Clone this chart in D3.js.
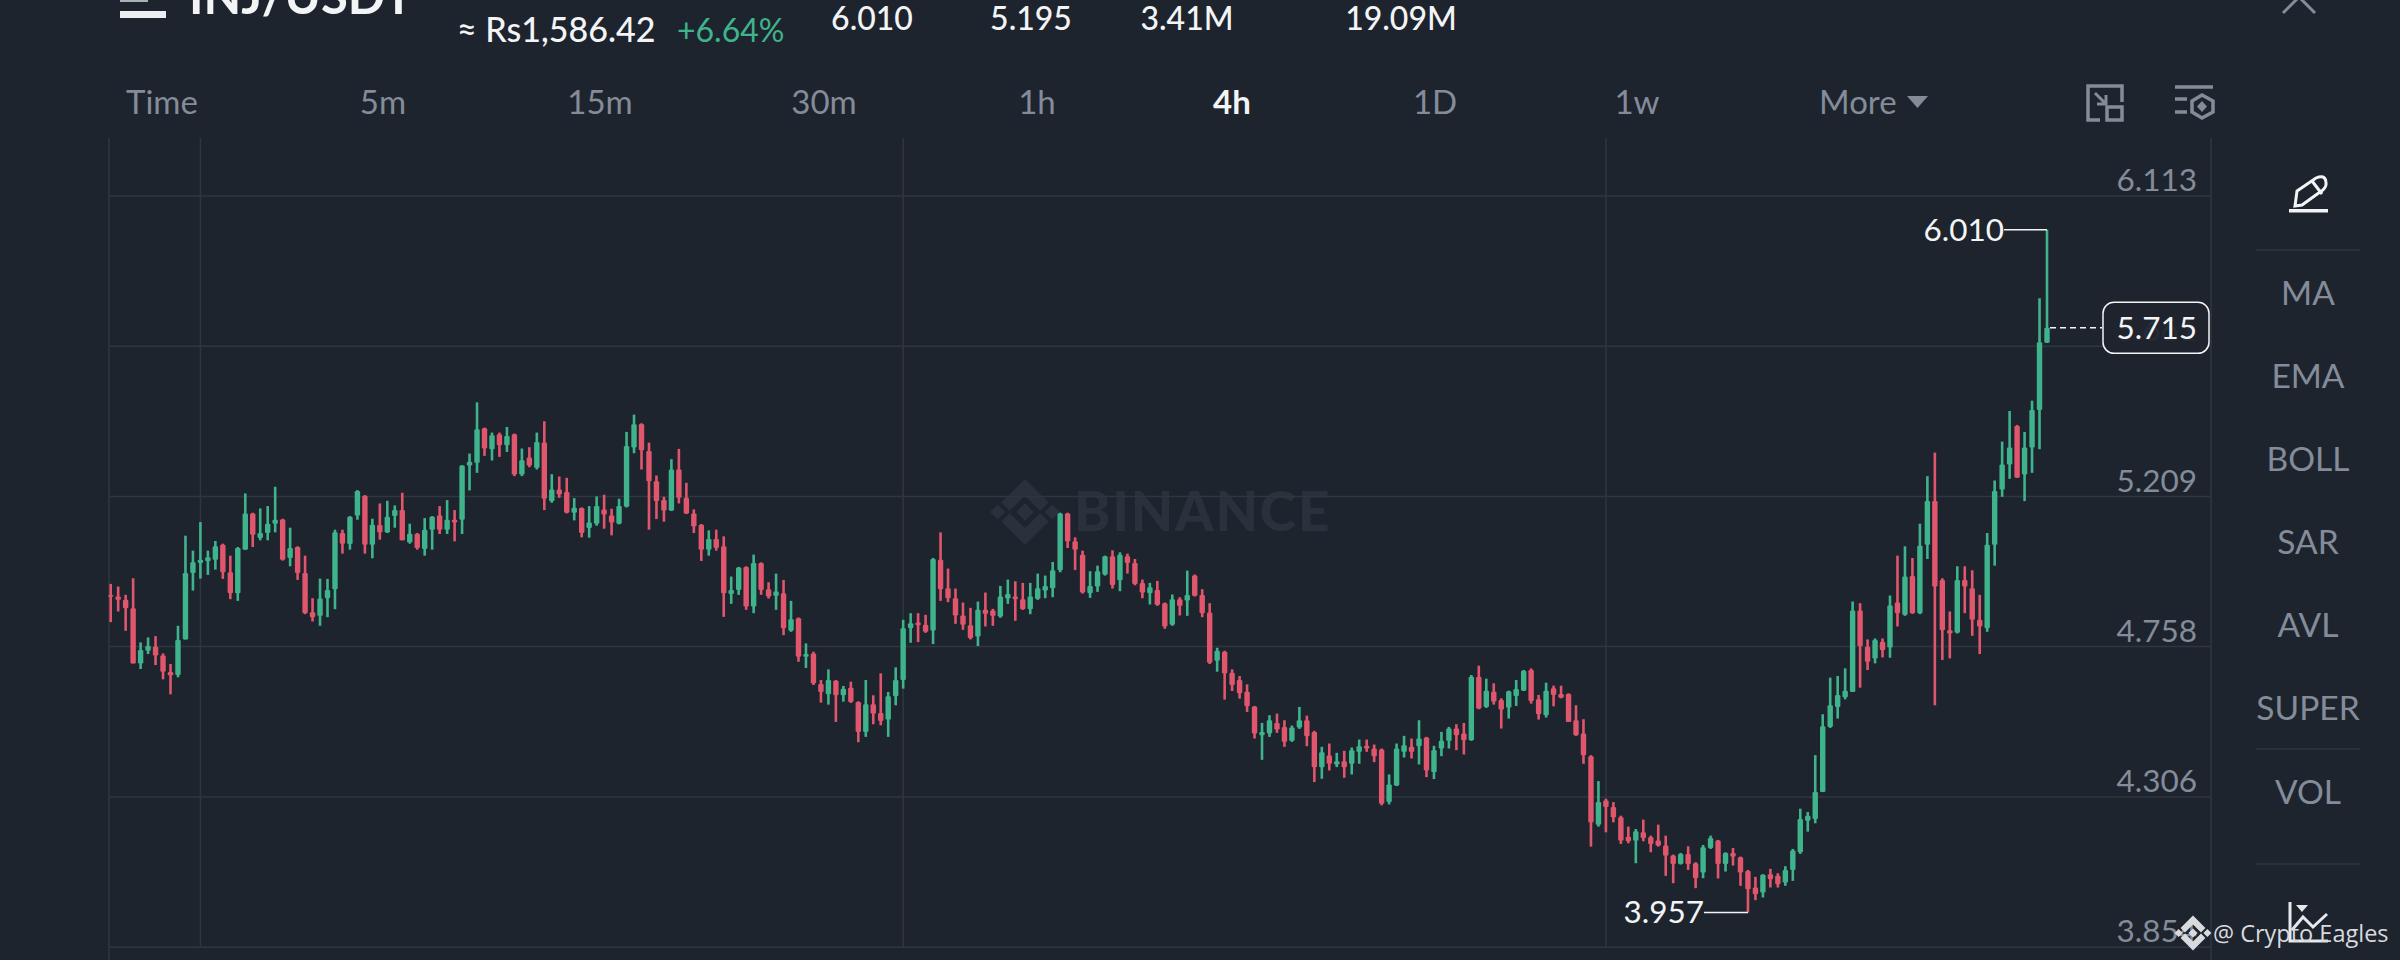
<!DOCTYPE html>
<html>
<head>
<meta charset="utf-8">
<title>INJ/USDT 4h</title>
<script src="https://d3js.org/d3.v7.min.js"></script>
<style>
  html, body { margin: 0; padding: 0; background: #1e242e; overflow: hidden; }
  text { font-family: Lato, "Open Sans", sans-serif; }
</style>
</head>
<body>
<script>
// 4h candles, oldest first
var opens = [
  4.912,4.907,4.897,4.872,4.706,4.744,4.756,4.730,4.680,4.671,
  4.778,4.978,5.008,5.013,5.018,5.063,4.980,4.917,5.048,5.157,
  5.083,5.098,5.126,5.139,5.023,5.056,4.978,4.860,4.849,4.902,
  4.929,5.098,5.065,5.151,5.210,5.063,5.122,5.100,5.149,5.167,
  5.070,5.096,5.050,5.108,5.151,5.108,5.138,5.138,5.301,5.309,
  5.413,5.350,5.395,5.362,5.395,5.274,5.325,5.294,5.370,5.194,
  5.229,5.221,5.159,5.173,5.113,5.126,5.169,5.151,5.126,5.177,
  5.355,5.426,5.345,5.254,5.197,5.166,5.289,5.204,5.157,5.123,
  5.048,5.080,5.058,4.915,4.927,4.996,4.877,5.008,4.929,4.909,
  4.917,4.804,4.842,4.726,4.736,4.644,4.613,4.654,4.610,4.633,
  4.590,4.500,4.583,4.557,4.537,4.607,4.656,4.812,4.829,4.822,
  4.805,5.018,4.932,4.902,4.850,4.821,4.787,4.867,4.865,4.847,
  4.901,4.907,4.899,4.869,4.900,4.925,4.932,4.986,5.157,5.073,
  5.033,4.917,4.937,4.973,5.028,4.956,5.028,5.008,4.948,4.917,
  4.927,4.887,4.822,4.899,4.895,4.970,4.912,4.859,4.714,4.741,
  4.678,4.656,4.621,4.576,4.490,4.495,4.527,4.515,4.473,4.513,
  4.535,4.500,4.394,4.429,4.402,4.412,4.404,4.440,4.458,4.450,
  4.447,4.289,4.339,4.440,4.455,4.457,4.483,4.379,4.450,4.473,
  4.510,4.495,4.475,4.666,4.575,4.621,4.596,4.573,4.608,4.624,
  4.686,4.598,4.550,4.631,4.614,4.614,4.535,4.495,4.427,4.221,
  4.294,4.274,4.243,4.185,4.173,4.198,4.183,4.173,4.158,4.128,
  4.103,4.133,4.105,4.077,4.151,4.173,4.103,4.136,4.123,4.082,
  4.032,4.017,4.072,4.067,4.047,4.085,4.138,4.233,4.238,4.319,
  4.515,4.575,4.604,4.620,4.865,4.756,4.721,4.771,4.754,4.889,
  4.852,4.969,4.857,5.063,5.194,4.957,4.806,4.798,4.957,4.932,
  4.837,4.812,5.063,5.229,5.304,5.420,5.274,5.355,5.468,5.670
];
var highs = [
  4.945,4.937,4.912,4.962,4.769,4.784,4.788,4.736,4.704,4.819,
  5.090,5.045,5.131,5.045,5.074,5.066,5.030,5.056,5.217,5.159,
  5.172,5.179,5.237,5.141,5.114,5.058,5.030,4.902,4.961,4.960,
  5.108,5.108,5.149,5.227,5.212,5.141,5.187,5.195,5.181,5.219,
  5.126,5.098,5.143,5.149,5.179,5.197,5.167,5.302,5.337,5.491,
  5.415,5.400,5.400,5.417,5.397,5.352,5.356,5.400,5.434,5.275,
  5.268,5.264,5.203,5.175,5.179,5.208,5.213,5.171,5.201,5.402,
  5.454,5.428,5.370,5.271,5.207,5.320,5.351,5.249,5.169,5.125,
  5.106,5.108,5.088,4.967,4.996,4.998,5.033,5.010,4.950,4.976,
  4.957,4.894,4.844,4.766,4.741,4.656,4.688,4.656,4.638,4.651,
  4.592,4.656,4.610,4.676,4.620,4.694,4.837,4.857,4.857,4.852,
  5.023,5.100,4.991,4.931,4.889,4.873,4.892,4.919,4.870,4.939,
  4.958,4.953,4.948,4.948,4.976,4.970,5.011,5.159,5.159,5.085,
  5.045,4.983,5.000,5.030,5.046,5.040,5.036,5.020,4.958,4.948,
  4.954,4.889,4.913,4.905,4.985,4.973,4.929,4.887,4.753,4.744,
  4.688,4.668,4.643,4.578,4.527,4.550,4.555,4.535,4.519,4.575,
  4.549,4.503,4.455,4.465,4.437,4.443,4.453,4.477,4.477,4.462,
  4.450,4.372,4.465,4.488,4.480,4.535,4.485,4.458,4.500,4.515,
  4.523,4.527,4.671,4.699,4.660,4.646,4.601,4.624,4.656,4.686,
  4.691,4.611,4.648,4.639,4.639,4.616,4.580,4.538,4.430,4.352,
  4.299,4.289,4.248,4.215,4.208,4.236,4.188,4.221,4.188,4.131,
  4.136,4.156,4.108,4.160,4.188,4.175,4.138,4.151,4.125,4.085,
  4.064,4.072,4.088,4.075,4.096,4.148,4.269,4.259,4.430,4.553,
  4.663,4.668,4.691,4.892,4.887,4.778,4.781,4.781,4.910,5.030,
  5.058,5.023,5.126,5.269,5.340,4.962,4.862,4.998,4.998,4.986,
  4.912,5.098,5.256,5.373,5.465,5.423,5.402,5.496,5.804,6.010
];
var lows = [
  4.830,4.862,4.804,4.706,4.689,4.734,4.701,4.658,4.613,4.664,
  4.778,4.925,4.961,4.972,4.988,4.960,4.899,4.894,5.048,5.056,
  5.076,5.076,5.100,5.015,4.998,4.957,4.854,4.832,4.819,4.845,
  4.869,5.036,5.048,5.138,5.036,5.022,5.078,5.098,5.114,5.076,
  5.066,5.048,5.030,5.048,5.095,5.095,5.073,5.095,5.226,5.279,
  5.330,5.316,5.327,5.342,5.269,5.269,5.296,5.289,5.167,5.189,
  5.204,5.157,5.136,5.085,5.084,5.120,5.111,5.091,5.124,5.175,
  5.338,5.289,5.108,5.140,5.132,5.164,5.187,5.155,5.098,5.014,
  5.030,5.045,4.846,4.885,4.912,4.867,4.857,4.912,4.901,4.867,
  4.791,4.801,4.711,4.692,4.641,4.588,4.582,4.530,4.591,4.587,
  4.469,4.485,4.523,4.520,4.485,4.580,4.630,4.768,4.770,4.798,
  4.764,4.894,4.890,4.825,4.807,4.778,4.758,4.817,4.819,4.843,
  4.885,4.834,4.867,4.854,4.897,4.902,4.905,4.980,5.053,4.987,
  4.916,4.903,4.921,4.970,4.931,4.923,4.976,4.941,4.902,4.883,
  4.879,4.810,4.819,4.850,4.849,4.907,4.845,4.704,4.681,4.597,
  4.623,4.600,4.560,4.480,4.416,4.485,4.497,4.455,4.470,4.509,
  4.457,4.349,4.359,4.384,4.394,4.362,4.372,4.404,4.440,4.409,
  4.279,4.282,4.337,4.423,4.420,4.402,4.364,4.358,4.427,4.450,
  4.445,4.432,4.473,4.568,4.572,4.582,4.510,4.540,4.578,4.623,
  4.585,4.537,4.543,4.577,4.601,4.530,4.488,4.404,4.155,4.215,
  4.198,4.228,4.163,4.165,4.105,4.171,4.138,4.155,4.067,4.045,
  4.101,4.085,4.030,4.060,4.148,4.059,4.080,4.098,4.037,3.957,
  3.994,4.002,4.032,4.032,4.037,4.052,4.133,4.200,4.225,4.319,
  4.512,4.540,4.598,4.620,4.633,4.686,4.706,4.724,4.723,4.817,
  4.849,4.855,4.854,5.020,4.580,4.716,4.721,4.796,4.857,4.789,
  4.734,4.801,5.000,5.207,5.261,5.264,5.194,5.279,5.350,5.670
];
var closes = [
  4.906,4.897,4.872,4.706,4.746,4.758,4.730,4.681,4.670,4.776,
  4.978,5.010,5.018,5.025,5.058,4.980,4.917,5.053,5.157,5.093,
  5.098,5.126,5.138,5.018,5.053,4.978,4.857,4.845,4.901,4.927,
  5.100,5.066,5.147,5.224,5.063,5.123,5.100,5.147,5.167,5.076,
  5.096,5.053,5.108,5.147,5.108,5.138,5.130,5.301,5.312,5.410,
  5.352,5.392,5.362,5.390,5.274,5.317,5.301,5.372,5.201,5.229,
  5.214,5.159,5.174,5.098,5.130,5.179,5.154,5.130,5.179,5.360,
  5.425,5.347,5.254,5.194,5.166,5.289,5.204,5.157,5.118,5.048,
  5.080,5.053,4.917,4.927,4.994,4.877,5.008,4.927,4.907,4.922,
  4.812,4.839,4.726,4.734,4.646,4.620,4.656,4.610,4.630,4.590,
  4.500,4.583,4.555,4.533,4.607,4.656,4.812,4.827,4.821,4.801,
  5.020,4.929,4.902,4.850,4.822,4.782,4.867,4.855,4.849,4.907,
  4.915,4.899,4.869,4.907,4.932,4.939,4.986,5.157,5.073,5.048,
  4.919,4.939,4.983,5.028,4.942,5.033,5.008,4.945,4.919,4.935,
  4.882,4.817,4.899,4.879,4.912,4.909,4.857,4.708,4.744,4.676,
  4.641,4.616,4.577,4.495,4.500,4.535,4.507,4.470,4.513,4.535,
  4.487,4.394,4.439,4.404,4.412,4.394,4.445,4.457,4.450,4.427,
  4.284,4.342,4.450,4.460,4.440,4.480,4.384,4.445,4.473,4.510,
  4.490,4.475,4.666,4.570,4.624,4.591,4.567,4.622,4.629,4.684,
  4.593,4.553,4.624,4.611,4.603,4.530,4.490,4.430,4.228,4.289,
  4.274,4.243,4.173,4.171,4.201,4.181,4.163,4.158,4.128,4.103,
  4.133,4.103,4.060,4.153,4.181,4.103,4.136,4.125,4.077,4.027,
  4.012,4.070,4.057,4.042,4.085,4.143,4.238,4.248,4.319,4.517,
  4.580,4.611,4.624,4.865,4.758,4.711,4.776,4.746,4.880,4.857,
  4.967,4.857,5.060,5.194,4.937,4.806,4.796,4.957,4.937,4.837,
  4.817,5.063,5.224,5.304,5.355,5.264,5.355,5.468,5.672,5.715
];

var priceTicks = [3.854, 4.306, 4.758, 5.209, 5.661, 6.113];
var timeTicks = [12, 106, 200];  // candle index of each vertical grid line
var lastPrice = 5.715;
var intervals = ["Time", "5m", "15m", "30m", "1h", "4h", "1D", "1w"];
var indicators = ["MA", "EMA", "BOLL", "SAR", "AVL", "SUPER", "VOL"];
var headerStats = ["6.010", "5.195", "3.41M", "19.09M"];

var BG = "#1e242e", GRID = "#30363f", GREY = "#848c99", WHITE = "#f3f4f6";
var UP = "#3fb48c", DOWN = "#e0566c";

var svg = d3.select("body").append("svg")
    .attr("width", 2400)
    .attr("height", 960)
    .style("display", "block");

var x = d3.scaleLinear().domain([0, opens.length - 1]).range([110.7, 2047]);
var y = d3.scaleLinear().domain([3.854, 6.113]).range([946.7, 195.5]);

var left = 109, right = 2211, plotTop = 138;

// binance mark, used twice
function logo(g, cx, cy, s, color) {
  var d = function(px, py, r) {
    return "M" + (cx + px * s) + "," + (cy + py * s - r * s) +
      "L" + (cx + px * s + r * s) + "," + (cy + py * s) +
      "L" + (cx + px * s) + "," + (cy + py * s + r * s) +
      "L" + (cx + px * s - r * s) + "," + (cy + py * s) + "Z";
  };
  var chevron = function(dir) {
    var pts = [[-0.62, 0.25], [0, 0.87], [0.62, 0.25], [0.4, 0.03], [0, 0.43], [-0.4, 0.03]];
    return "M" + pts.map(function(p) { return (cx + p[0] * s) + "," + (cy + dir * p[1] * s); }).join("L") + "Z";
  };
  g.append("path").attr("d", d(0, 0, 0.23) + d(-0.72, 0, 0.2) + d(0.72, 0, 0.2) + chevron(1) + chevron(-1))
    .attr("fill", color);
}

// watermark sits under everything in the plot
logo(svg.append("g"), 1025, 512, 38, "#2a313c");
svg.append("text").text("BINANCE")
    .attr("x", 1074).attr("y", 531)
    .attr("font-size", 55).attr("font-weight", 900)
    .attr("letter-spacing", 1.8)
    .attr("fill", "#2a313c");

// grid
var axisY = svg.append("g")
    .attr("transform", "translate(" + left + ",0)")
    .call(d3.axisLeft(y).tickValues(priceTicks).tickFormat(d3.format(".3f"))
      .tickSize(-(right - left)));
axisY.select(".domain").remove();
axisY.selectAll("line").attr("stroke", GRID).attr("stroke-width", 1.5);
axisY.selectAll("text")
    .attr("x", 2197 - left).attr("dy", -5)
    .attr("text-anchor", "end")
    .attr("font-size", 31.5)
    .attr("font-family", "Lato")
    .attr("fill", GREY);

svg.selectAll(".vgrid").data(timeTicks).enter().append("line")
    .attr("class", "vgrid")
    .attr("x1", function(d) { return x(d); })
    .attr("x2", function(d) { return x(d); })
    .attr("y1", plotTop).attr("y2", y(3.854))
    .attr("stroke", GRID).attr("stroke-width", 1.5);
[left, right].forEach(function(px) {
  svg.append("line").attr("x1", px).attr("x2", px).attr("y1", plotTop).attr("y2", 960)
      .attr("stroke", GRID).attr("stroke-width", 1.5);
});

// candles
var candles = svg.selectAll(".candle").data(opens).enter().append("g").attr("class", "candle");
candles.append("rect")
    .attr("x", function(d, i) { return x(i) - 1.3; })
    .attr("width", 2.6)
    .attr("y", function(d, i) { return y(highs[i]); })
    .attr("height", function(d, i) { return y(lows[i]) - y(highs[i]); })
    .attr("fill", function(d, i) { return closes[i] >= d ? UP : DOWN; });
candles.append("rect")
    .attr("x", function(d, i) { return x(i) - 2.7; })
    .attr("width", 5.4)
    .attr("rx", 1.2)
    .attr("y", function(d, i) { return y(Math.max(d, closes[i])); })
    .attr("height", function(d, i) { return Math.max(1.5, Math.abs(y(d) - y(closes[i]))); })
    .attr("fill", function(d, i) { return closes[i] >= d ? UP : DOWN; });

// high and low markers
var hi = d3.max(highs), lo = d3.min(lows);
var hiX = x(highs.indexOf(hi)), loX = x(lows.indexOf(lo));
svg.append("line").attr("x1", hiX - 43).attr("x2", hiX).attr("y1", y(hi)).attr("y2", y(hi))
    .attr("stroke", WHITE).attr("stroke-width", 1.5);
svg.append("text").text(d3.format(".3f")(hi))
    .attr("x", hiX - 43).attr("y", y(hi) + 11).attr("text-anchor", "end")
    .attr("font-size", 31.5).attr("fill", WHITE);
svg.append("line").attr("x1", loX - 44).attr("x2", loX).attr("y1", y(lo)).attr("y2", y(lo))
    .attr("stroke", WHITE).attr("stroke-width", 1.5);
svg.append("text").text(d3.format(".3f")(lo))
    .attr("x", loX - 44).attr("y", y(lo) + 11).attr("text-anchor", "end")
    .attr("font-size", 31.5).attr("fill", WHITE);

// last price tag
svg.append("line")
    .attr("x1", x(opens.length - 1) + 3).attr("x2", 2102)
    .attr("y1", y(lastPrice)).attr("y2", y(lastPrice))
    .attr("stroke", WHITE).attr("stroke-width", 1.5).attr("stroke-dasharray", "6,4");
svg.append("rect")
    .attr("x", 2103).attr("y", y(lastPrice) - 25.5)
    .attr("width", 106).attr("height", 51).attr("rx", 11)
    .attr("fill", BG).attr("fill-opacity", 0.93)
    .attr("stroke", WHITE).attr("stroke-width", 1.5);
svg.append("text").text(d3.format(".3f")(lastPrice))
    .attr("x", 2197).attr("y", y(lastPrice) + 11).attr("text-anchor", "end")
    .attr("font-size", 31.5).attr("fill", WHITE);

// header, cut by the top edge
svg.append("text").text("INJ/USDT")
    .attr("x", 189).attr("y", 14)
    .attr("font-size", 49).attr("font-weight", 700).attr("fill", WHITE);
svg.append("rect").attr("x", 120).attr("y", 11).attr("width", 46).attr("height", 7).attr("fill", "#eceef2");
svg.append("rect").attr("x", 120).attr("y", -3).attr("width", 28).attr("height", 5).attr("fill", "#aab0ba");
svg.append("text").text("≈ Rs1,586.42")
    .attr("x", 457).attr("y", 42)
    .attr("font-size", 34).attr("font-weight", 500).attr("fill", WHITE);
svg.append("text").text("+6.64%")
    .attr("x", 677).attr("y", 42)
    .attr("font-size", 32).attr("fill", UP);
var statX = [872, 1031, 1187, 1401];
svg.selectAll(".stat").data(headerStats).enter().append("text")
    .attr("class", "stat")
    .text(function(d) { return d; })
    .attr("x", function(d, i) { return statX[i]; })
    .attr("y", 30).attr("text-anchor", "middle")
    .attr("font-size", 32).attr("font-weight", 500).attr("fill", WHITE);

// close button, mostly off the top
svg.append("path").attr("d", "M2283,13L2299,-3L2315,13")
    .attr("fill", "none").attr("stroke", GREY).attr("stroke-width", 3);

// interval row
var intervalX = [162, 383, 600, 824, 1037, 1232, 1435, 1637];
svg.selectAll(".interval").data(intervals).enter().append("text")
    .attr("class", "interval")
    .text(function(d) { return d; })
    .attr("x", function(d, i) { return intervalX[i]; })
    .attr("y", 114).attr("text-anchor", "middle")
    .attr("font-size", 33)
    .attr("font-weight", function(d) { return d == "4h" ? 700 : 400; })
    .attr("fill", function(d) { return d == "4h" ? WHITE : GREY; });
svg.append("text").text("More")
    .attr("x", 1819).attr("y", 114)
    .attr("font-size", 33).attr("fill", GREY);
svg.append("path").attr("d", "M1907,96L1928,96L1917.5,108Z").attr("fill", GREY);

// small toolbar icons
var icon1 = svg.append("g").attr("fill", "none").attr("stroke", GREY).attr("stroke-width", 3.5);
icon1.append("path").attr("d", "M2100,120L2088,120L2088,86L2122,86L2122,102");
icon1.append("rect").attr("x", 2107).attr("y", 107).attr("width", 15).attr("height", 13);
icon1.append("path").attr("d", "M2095,93L2106,104M2106,95L2106,104L2097,104").attr("stroke-width", 3);
var icon2 = svg.append("g").attr("fill", "none").attr("stroke", GREY).attr("stroke-width", 3.5);
icon2.append("path").attr("d", "M2175,87L2213,87M2175,99L2187,99M2175,112L2187,112");
icon2.append("path").attr("d", "M2202,95L2213,101L2213,112L2202,118L2192,112L2192,101Z");
icon2.append("path").attr("d", "M2202,101L2207,106.500L2202,112L2197,106.500Z").attr("fill", GREY).attr("stroke", "none");

// right panel
var penG = svg.append("g").attr("fill", "none").attr("stroke", WHITE).attr("stroke-width", 3);
penG.append("path").attr("d", "M2297,191L2316,178Q2325,174 2326,182Q2327,188 2320,192L2302,205L2295,206Z");
penG.append("path").attr("d", "M2312,181L2322,194");
svg.append("rect").attr("x", 2289).attr("y", 209).attr("width", 39).attr("height", 3.5).attr("fill", WHITE);

var indicatorY = [305, 388, 471, 554, 637, 720, 804];
svg.selectAll(".indicator").data(indicators).enter().append("text")
    .attr("class", "indicator")
    .text(function(d) { return d; })
    .attr("x", 2308)
    .attr("y", function(d, i) { return indicatorY[i]; })
    .attr("text-anchor", "middle")
    .attr("font-size", 33.5)
    .attr("fill", GREY);
[250, 749, 864].forEach(function(py) {
  svg.append("line").attr("x1", 2256).attr("x2", 2360).attr("y1", py).attr("y2", py)
      .attr("stroke", GRID).attr("stroke-width", 1.5);
});

var chartIcon = svg.append("g").attr("fill", "none").attr("stroke", "#e6e8ec").attr("stroke-width", 3);
chartIcon.append("path").attr("d", "M2290,902L2290,941L2328,941");
chartIcon.append("path").attr("d", "M2292,930L2303,917L2313,927L2327,914");
svg.append("path").attr("d", "M2296,905L2308,905L2302,912Z").attr("fill", "#e6e8ec");

// feed credit over the corner
logo(svg.append("g"), 2193, 933, 20, "#d9dade");
svg.append("text").text("@ Crypto Eagles")
    .attr("x", 2213).attr("y", 942)
    .style("font-family", "Open Sans")
    .attr("font-size", 23.5)
    .attr("fill", "#d9dade");
</script>
</body>
</html>
